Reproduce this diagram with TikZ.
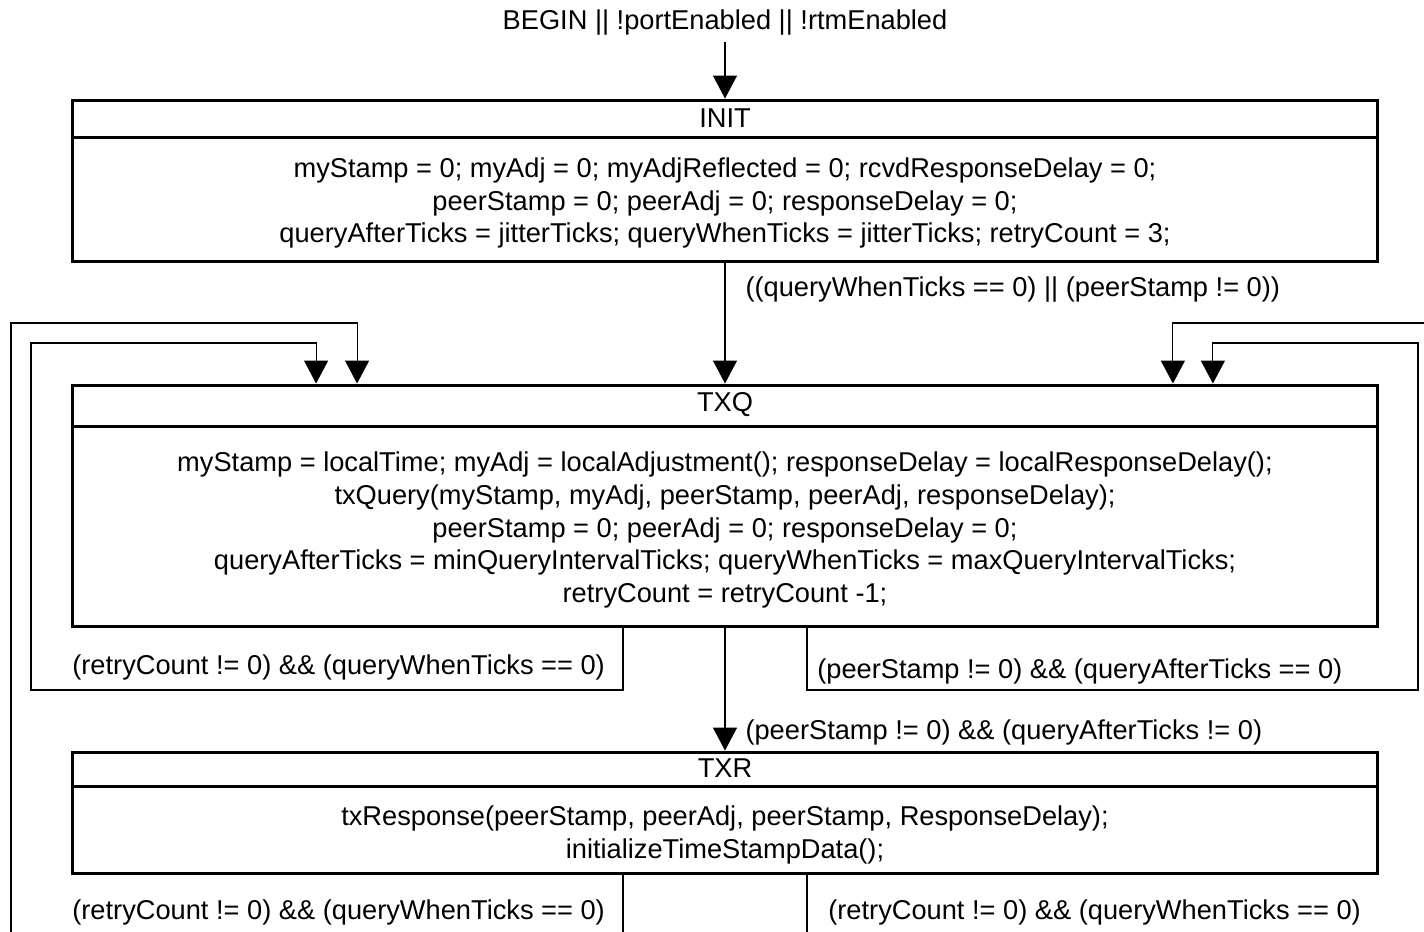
\documentclass[tikz,border=0pt]{standalone}
\usepackage{fontspec}
\setmainfont{Liberation Sans}
\usepackage{tikz}
\usetikzlibrary{arrows.meta,positioning}

\begin{document}
\begin{tikzpicture}[x=0.02cm, y=-0.02cm, >={Triangle[width=13.6pt,length=13pt]},
	font=\fontsize{15.5}{18.7}\selectfont,
	statebox/.style={draw, line width=1.7pt, minimum width=26.12cm, inner sep=0pt},
	titleband/.style={minimum width=26.12cm, minimum height=0.76cm, inner sep=0pt, anchor=north},
	bodytext/.style={align=center, inner sep=0pt},
	guard/.style={inner sep=0pt, anchor=west, yshift=-0.05cm},
	link/.style={line width=0.6pt}]
	\useasboundingbox (0,0) rectangle (1424,932);

	% States {INIT, TXQ, TXR}
	\node [statebox, minimum height=3.24cm]	(init)	at (725,181)	{};
	\node [statebox, minimum height=4.84cm]	(txq)	at (725,506)	{};
	\node [statebox, minimum height=2.44cm]	(txr)	at (725,813)	{};

	\node [titleband]	(inittitle)	at (init.north)	{INIT};
	\node [titleband, minimum height=0.84cm]	(txqtitle)	at (txq.north)	{TXQ};
	\node [titleband, minimum height=0.70cm]	(txrtitle)	at (txr.north)	{TXR};

	\draw [line width=1.7pt] (inittitle.south west) -- (inittitle.south east);
	\draw [line width=1.7pt] (txqtitle.south west) -- (txqtitle.south east);
	\draw [line width=1.7pt] (txrtitle.south west) -- (txrtitle.south east);

	\node [bodytext]	(initbody)	at (725,203)
	{myStamp = 0; myAdj = 0; myAdjReflected = 0; rcvdResponseDelay = 0;\\
	 peerStamp = 0; peerAdj = 0; responseDelay = 0;\\
	 queryAfterTicks = jitterTicks; queryWhenTicks = jitterTicks; retryCount = 3;};
	\node [bodytext]	(txqbody)	at (725,530)
	{myStamp = localTime; myAdj = localAdjustment(); responseDelay = localResponseDelay();\\
	 txQuery(myStamp, myAdj, peerStamp, peerAdj, responseDelay);\\
	 peerStamp = 0; peerAdj = 0; responseDelay = 0;\\
	 queryAfterTicks = minQueryIntervalTicks; queryWhenTicks = maxQueryIntervalTicks;\\
	 retryCount = retryCount -1;};
	\node [bodytext]	(txrbody)	at (725,835)
	{txResponse(peerStamp, peerAdj, peerStamp, ResponseDelay);\\
	 initializeTimeStampData();};

	% Entry condition
	\node (begin) at (725,23) {BEGIN || !portEnabled || !rtmEnabled};
	\draw [link, ->] (begin.south) -- (init.north);

	% Straight paths
	\draw [link, ->] (init.south) -- node [guard, pos=0.2, xshift=0.4cm]
	{((queryWhenTicks == 0) || (peerStamp != 0))}	(txq.north);
	\draw [link, ->] (txq.south) -- node [guard, pos=0.83, xshift=0.4cm]
	{(peerStamp != 0) \&\& (queryAfterTicks != 0)}	(txr.north);

	% Loops back into TXQ
	\draw [link, ->] ([xshift=-2.04cm]txq.south) |- (31,690) -- (31,343)
		-| ([xshift=-8.18cm]txq.north);
	\draw [link, ->] ([xshift=1.64cm]txq.south) |- (1418,690) -- (1418,343)
		-| ([xshift=9.76cm]txq.north);
	\node [guard]	(retryq)	at (72,665)	{(retryCount != 0) \&\& (queryWhenTicks == 0)};
	\node [guard]	(peerq)		at (817,669)	{(peerStamp != 0) \&\& (queryAfterTicks == 0)};

	% Paths leaving the page
	\coordinate (lin)	at (11,932);
	\coordinate (rin)	at (1424,323);
	\coordinate (lout)	at (623,932);
	\coordinate (rout)	at (807,932);
	\draw [link, ->] (lin) -- (11,323) -| ([xshift=-7.36cm]txq.north);
	\draw [link, ->] (rin) -| ([xshift=8.96cm]txq.north);
	\draw [link] (lout |- txr.south) -- (lout);
	\draw [link] (rout |- txr.south) -- (rout);
	\node [guard]	(retryl)	at (72,910)	{(retryCount != 0) \&\& (queryWhenTicks == 0)};
	\node [guard]	(retryr)	at (828,910)	{(retryCount != 0) \&\& (queryWhenTicks == 0)};

\end{tikzpicture}
\end{document}
